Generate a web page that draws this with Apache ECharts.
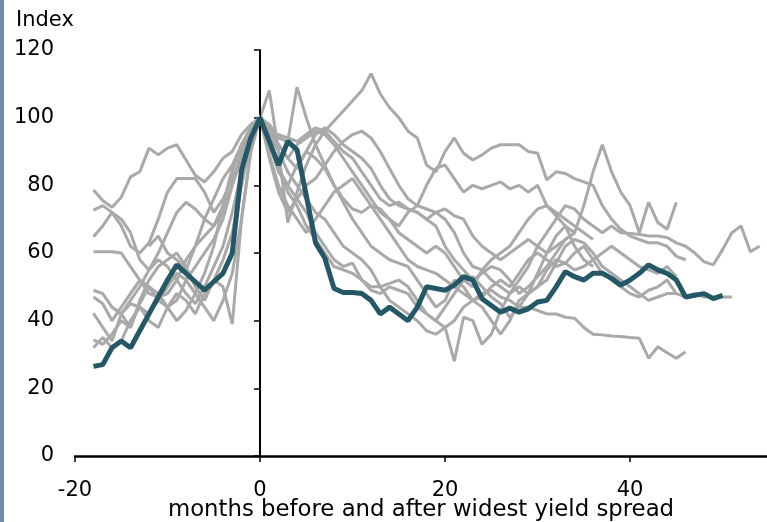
<!DOCTYPE html>
<html>
<head>
<meta charset="utf-8">
<script src="https://cdn.jsdelivr.net/npm/echarts@6/dist/echarts.min.js"></script>
<style>
    html, body { margin: 0; padding: 0; background: #fff; }
    #main { width: 767px; height: 522px; }
</style>
</head>
<body>
<div id="main"></div>
<script>
// every series starts at month -18 (null = no value yet)
var firstMonth = -18;
var xTicks = [-20, 0, 20, 40];

// bold line: average of episodes
var meanLine = [26.5, 27, 32, 34, 32, 37, 42, 47, 52, 56.5, 54, 51.5, 49, 51.5, 54, 60, 84.5, 94, 100,
    93, 86, 93, 90.5, 77, 63, 58.5, 49.5, 48.3, 48.3, 48, 46, 42, 44, 42, 40,
    44, 50, 49.5, 49, 50.5, 53, 52, 46.5, 44.5, 42.5, 43.7, 42.5, 43.5, 45.5, 46, 50, 54.5, 53, 52,
    54, 54, 52.5, 50.5, 52, 54, 56.5, 55, 54, 52, 47, 47.5, 48, 46.5, 47.5];

// single episodes (grey)
var ep1 = [78.6, 75.5, 73.5, 76.5, 82.5, 84, 91, 89, 91, 92, 87.5, 83, 81, 84, 88, 90, 95, 98, 100,
    96, 95, 94, 93, 95, 97, 96, 99, 102, 105, 108, 113, 107, 103, 100, 96,
    94, 86, 84, 90, 94, 89.5, 87.5, 89, 91, 92, 92, 92, 90, 89.5, 81.6, 84, 83.5, 82, 81,
    80, 74, 70, 67, 65, 64, 63, 63, 62, 59, 58];
var ep2 = [72.7, 74, 72, 68, 62, 60, 63, 70, 78, 82, 82, 82, 78, 72, 76, 82, 88, 95, 100,
    97, 92, 88, 85, 90, 95, 97, 95, 92, 90, 88, 85, 80, 76, 74, 73,
    72, 70, 72, 73, 71, 70, 65, 62, 60, 58, 60, 62, 64, 62, 60, 62, 64,
    66, 74, 84, 92, 84, 78, 74, 66, 75, 69, 67, 75];
var ep3 = [64.8, 68, 72, 70, 66, 58, 55, 60, 66, 72, 75, 73, 70, 68, 72, 80, 88, 96, 100,
    93, 85, 80, 86, 90, 88, 85, 80, 76, 73, 72, 74, 73, 70, 68, 72,
    74, 80, 85, 86, 82, 78, 80, 79, 80, 81, 79, 80, 78, 80, 74, 71, 68, 62, 58, 56];
var ep4 = [60.4, 60.4, 60.4, 60, 56, 52, 48, 47, 48, 52, 58, 62, 65, 68, 74, 84, 92, 97, 100,
    88, 78, 72, 76, 80, 82, 86, 90, 93, 95, 96, 94, 90, 85, 80, 76,
    74, 73, 72, 70, 66, 60, 56, 55, 52, 50, 48, 52, 56, 62, 66, 70, 74, 73, 70,
    68, 66, 68, 66, 65.8, 65.5, 65, 65, 64.6, 63, 62, 60, 57.4, 56.5, 61, 66, 68, 60.4, 62];
var ep5 = [49, 48, 44, 42, 46, 50, 55, 58, 56, 52, 48, 45, 50, 56, 62, 72, 84, 95, 100,
    92, 84, 80, 76, 72, 66, 62, 58, 56, 57, 52, 50, 50, 51, 52, 50,
    46, 42, 40, 38, 28, 41, 40, 33, 36, 43, 48, 50, 48, 54, 60, 65, 68, 66];
var ep6 = [47, 45, 40, 44, 48, 52, 50, 46, 44, 46, 52, 56, 60, 64, 70, 80, 90, 96, 100,
    95, 90, 84, 80, 76, 72, 70, 66, 62, 60, 58, 55, 50, 46, 44, 42,
    40, 37, 36, 38, 40, 44, 46, 48, 49, 47, 46, 44, 44, 43, 42, 42, 41, 40.7, 38,
    36, 35.8, 35.5, 35.3, 35, 34.8, 28.9, 32.3, 30.5, 28.9, 30.8];
var ep7 = [42.2, 38, 34, 42, 45, 44, 40, 38, 44, 48, 46, 42, 48, 52, 50, 39, 70, 90, 100,
    92, 85, 78, 74, 68, 64, 60, 56, 55, 54, 52, 49, 48, 50, 49, 48,
    44, 42, 40, 44, 48, 52, 53, 50, 47, 45, 41, 44, 48, 50, 52, 57, 62, 64, 63,
    60, 56, 54, 52, 50, 48, 46, 47, 48, 48, 47, 48, 47, 47, 47, 47];
var ep8 = [34.3, 33, 36, 40, 38, 46, 52, 56, 58, 60, 56, 50, 46, 52, 58, 66, 80, 93, 100,
    89, 80, 74, 70, 66, 70, 74, 78, 80, 82, 78, 74, 70, 66, 62, 58,
    56, 55, 54, 52, 50, 48, 46, 47, 50, 52, 50, 54, 58, 60, 58, 56, 57, 60, 62,
    58, 54, 52, 50, 48, 47, 49, 50, 52, 48];
var ep9 = [32, 35, 32, 34, 40, 44, 42, 46, 50, 54, 52, 48, 44, 40, 46, 54, 70, 90, 100,
    96, 92, 88, 92, 94, 96, 95, 92, 88, 84, 80, 76, 72, 70, 66, 64,
    62, 60, 62, 60, 56, 52, 50, 55, 58, 60, 62, 66, 70, 73, 74, 72, 70, 68, 66,
    64];
var ep10 = [null, null, null, null, null, null, 62, 65, 60, 58, 55, 62, 70, 76, 82, 86, 92, 97, 100,
    108, 90, 69, 78, 86, 92, 96, 93, 90, 88, 84, 80, 76, 74, 75, 73,
    72, 70, 68, 62, 58, 55, 52, 54, 56, 55, 52, 48, 50, 53, 56, 60, 64, 66];
var ep11 = [null, null, 44, 42, 38, 45, 50, 48, 44, 40, 43, 48, 54, 62, 74, 85, 92, 97, 100,
    98, 94, 93, 109, 100, 92, 86, 80, 75, 70, 66, 62, 60, 58, 57, 56,
    52, 48, 44, 46, 52, 50, 46, 44, 40, 36, 40, 46, 48, 50, 55, 58, 57, 55, 56,
    58, 60, 62, 60, 58, 56, 55, 54, 56, 53];

var episodes = [ep1, ep2, ep3, ep4, ep5, ep6, ep7, ep8, ep9, ep10, ep11];

function toPairs(arr) {
    var out = [];
    for (var i = 0; i < arr.length; i++) {
        if (arr[i] != null) out.push([firstMonth + i, arr[i]]);
    }
    return out;
}

var myChart = echarts.init(document.getElementById('main'));
var font = 'DejaVu Sans';

var series = [];
for (var i = 0; i < episodes.length; i++) {
    series.push({
        type: 'line',
        data: toPairs(episodes[i]),
        symbol: 'none',
        silent: true,
        z: 2,
        lineStyle: { color: '#a9a9a9', width: 3 }
    });
}
series.push({
    type: 'line',
    data: toPairs(meanLine),
    symbol: 'none',
    silent: true,
    z: 5,
    lineStyle: { color: '#245866', width: 5 },
    markLine: {
        silent: true,
        symbol: 'none',
        label: { show: false },
        lineStyle: { color: '#000', width: 1, type: 'solid' },
        data: [{ xAxis: 0 }]
    }
});

var option = {
    animation: false,
    backgroundColor: '#fff',
    grid: { left: 75, right: 0, top: 50, bottom: 66, outerBoundsMode: 'none', containLabel: false },
    xAxis: {
        type: 'value',
        min: -20,
        max: 54.8,
        interval: 20,
        name: 'months before and after widest yield spread',
        nameLocation: 'middle',
        nameGap: 43,
        nameMoveOverlap: false,
        nameTextStyle: { fontFamily: font, fontSize: 22.8, color: '#000' },
        axisLine: { lineStyle: { color: '#000', width: 2.5 } },
        axisTick: { length: 6, lineStyle: { color: '#000', width: 1.5 }, customValues: xTicks },
        axisLabel: { fontFamily: font, fontSize: 21, color: '#000', margin: 24, customValues: xTicks },
        splitLine: { show: false }
    },
    yAxis: {
        type: 'value',
        min: 0,
        max: 120,
        interval: 20,
        axisLine: { show: true, lineStyle: { color: '#000', width: 2 } },
        axisTick: { show: true, length: 6, lineStyle: { color: '#000', width: 1.5 } },
        axisLabel: { fontFamily: font, fontSize: 21, color: '#000', margin: 21 },
        splitLine: { show: false }
    },
    graphic: [
        { type: 'rect', left: 0, top: 0, shape: { width: 4, height: 522 }, style: { fill: '#6b90ad' } },
        { type: 'text', left: 16, top: 10, style: { text: 'Index', font: '21px "DejaVu Sans"', fill: '#000' } }
    ],
    series: series
};

myChart.setOption(option);
</script>
</body>
</html>
